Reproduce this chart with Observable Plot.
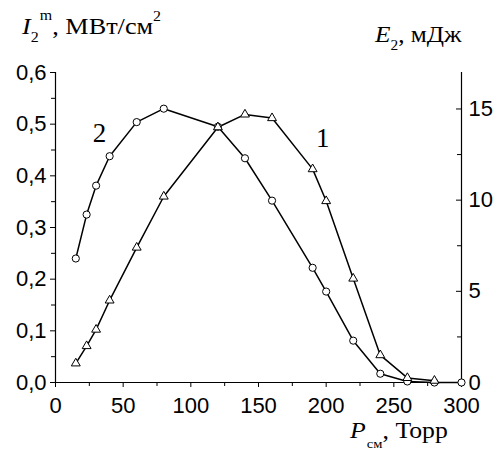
<!DOCTYPE html>
<html>
<head>
<meta charset="utf-8">
<script src="https://cdn.jsdelivr.net/npm/d3@7"></script>
<script src="https://cdn.jsdelivr.net/npm/@observablehq/plot@0.6"></script>
<style>
  body { margin: 0; background: #fff; }
  #chart { position: relative; width: 498px; height: 463px; }
</style>
</head>
<body>
<div id="chart"></div>
<script>
// Curve 2 (circles): peak intensity I2^m, MW/cm^2 (left axis)
const pressure2 = [15, 23, 30, 40, 60, 80, 120, 140, 160, 190, 200, 220, 240, 260, 280, 300];
const intensity2 = [0.240, 0.325, 0.381, 0.438, 0.504, 0.530, 0.495, 0.434, 0.352, 0.222, 0.176, 0.081, 0.017, 0.002, 0, 0];
// Curve 1 (triangles): energy E2, mJ (right axis)
const pressure1 = [15, 23, 30, 40, 60, 80, 120, 140, 160, 190, 200, 220, 240, 260, 280];
const energy1 = [1.05, 2.0, 2.9, 4.5, 7.4, 10.2, 14.0, 14.7, 14.5, 11.7, 9.95, 5.7, 1.5, 0.25, 0.1];
// Tick values
const xTicks = [0, 50, 100, 150, 200, 250, 300];
const xMinor = [25, 75, 125, 175, 225, 275];
const leftTicks = [0, 0.1, 0.2, 0.3, 0.4, 0.5, 0.6];
const leftMinor = [0.05, 0.15, 0.25, 0.35, 0.45, 0.55];
const rightTicks = [0, 5, 10, 15];
const rightMinor = [2.5, 7.5, 12.5];
const curveLabels = ["1", "2"];
const I_MAX = 0.6, E_MAX = 17;

const toI = e => e * I_MAX / E_MAX;
const series2 = pressure2.map((p, i) => ({p, v: intensity2[i]}));
const series1 = pressure1.map((p, i) => ({p, v: toI(energy1[i])}));

const serif = "'Liberation Serif', 'Times New Roman', serif";

const plot = Plot.plot({
  width: 498,
  height: 463,
  marginLeft: 55,
  marginRight: 37,
  marginTop: 72,
  marginBottom: 81,
  x: {domain: [0, 300], label: null},
  y: {domain: [0, 0.6], label: null},
  style: {fontFamily: "'Liberation Sans', Arial, sans-serif", fontSize: "22px", color: "black", background: "white", overflow: "visible"},
  marks: [
    // axis lines
    Plot.ruleX([0], {y1: 0, y2: 0.6, stroke: "black", strokeWidth: 1.2}),
    Plot.ruleX([300], {y1: 0, y2: 0.6, stroke: "black", strokeWidth: 1.2}),
    Plot.ruleY([0], {x1: 0, x2: 300, stroke: "black", strokeWidth: 1.2}),
    // left axis
    Plot.axisY(leftTicks, {anchor: "left", tickSize: 5, tickPadding: 4, fontSize: 22,
      tickFormat: d => d.toFixed(1).replace(".", ",")}),
    Plot.axisY(leftMinor, {anchor: "left", tickSize: 4, tickFormat: () => ""}),
    // bottom axis
    Plot.axisX(xTicks, {anchor: "bottom", tickSize: 5, tickPadding: 10, fontSize: 22, tickFormat: d => String(d)}),
    Plot.axisX(xMinor, {anchor: "bottom", tickSize: 4, tickFormat: () => ""}),
    // right axis (E2, mJ), ticks pointing inward
    Plot.ruleY(rightTicks.map(toI), {x1: 300, x2: 300, insetLeft: -5, stroke: "black"}),
    Plot.ruleY(rightMinor.map(toI), {x1: 300, x2: 300, insetLeft: -4, stroke: "black"}),
    Plot.axisY(rightTicks.map(toI), {anchor: "right", tickSize: 0, tickPadding: 7, fontSize: 22,
      tickFormat: d => String(Math.round(d * E_MAX / I_MAX))}),
    // curves
    Plot.line(series2, {x: "p", y: "v", stroke: "black", strokeWidth: 1.5}),
    Plot.line(series1, {x: "p", y: "v", stroke: "black", strokeWidth: 1.5}),
    Plot.dot(series2, {x: "p", y: "v", r: 3.6, fill: "white", stroke: "black", strokeWidth: 1}),
    Plot.dot(series1, {x: "p", y: "v", symbol: "triangle", r: 3.3, fill: "white", stroke: "black", strokeWidth: 1}),
    // curve labels
    Plot.text([curveLabels[1]], {x: () => 32.5, y: () => 0.482, text: d => d, fontFamily: serif, fontSize: 27, textAnchor: "middle", lineAnchor: "middle"}),
    Plot.text([curveLabels[0]], {x: () => 197.5, y: () => 0.473, text: d => d, fontFamily: serif, fontSize: 27, textAnchor: "middle", lineAnchor: "middle"})
  ]
});

document.getElementById("chart").appendChild(plot);

// Axis titles with sub/superscripts (slightly widened like the reference)
const svg = d3.select(plot);
const title = (x, y, sx) => svg.append("text")
  .attr("transform", `translate(${x},${y}) scale(${sx},1)`)
  .attr("text-anchor", "start").attr("font-family", serif).attr("font-size", 23).attr("fill", "black");

const t1 = title(22, 34, 1.14);
t1.append("tspan").attr("font-style", "italic").text("I");
t1.append("tspan").attr("font-size", 14).attr("dy", 8).text("2");
t1.append("tspan").attr("font-size", 14).attr("dy", -22).attr("dx", 1).text("m");
t1.append("tspan").attr("dy", 14).text(", МВт/см");
t1.append("tspan").attr("font-size", 14).attr("dy", -13).text("2");

const t2 = title(375, 42, 1.1);
t2.append("tspan").attr("font-style", "italic").text("E");
t2.append("tspan").attr("font-size", 14).attr("dy", 8).text("2");
t2.append("tspan").attr("dy", -8).text(", мДж");

const t3 = title(350, 438, 1.12);
t3.append("tspan").attr("font-style", "italic").text("P");
t3.append("tspan").attr("font-size", 13).attr("dy", 10).attr("dx", 1).text("см");
t3.append("tspan").attr("dy", -10).text(", Торр");
</script>
</body>
</html>
